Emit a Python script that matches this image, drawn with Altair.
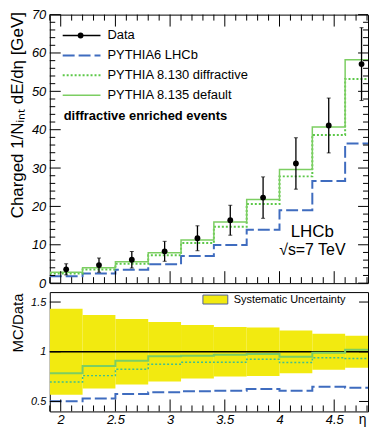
import altair as alt
import pandas as pd

# ---------------- data ----------------
eta_lo = [1.9, 2.2, 2.5, 2.8, 3.1, 3.4, 3.7, 4.0, 4.3, 4.6]
eta_hi = [2.2, 2.5, 2.8, 3.1, 3.4, 3.7, 4.0, 4.3, 4.6, 4.9]
eta_mid = [2.05, 2.35, 2.65, 2.95, 3.25, 3.55, 3.85, 4.15, 4.45, 4.75]
data_val = [3.6, 4.7, 6.1, 8.3, 11.7, 16.4, 22.3, 31.2, 41.1, 57.1]
data_err = [1.45, 1.85, 2.15, 2.6, 3.25, 3.9, 5.4, 6.7, 7.15, 9.5]
ratio_p6 = [0.503, 0.53, 0.575, 0.592, 0.603, 0.608, 0.625, 0.609, 0.648, 0.638]
ratio_p8130 = [0.695, 0.76, 0.825, 0.875, 0.894, 0.895, 0.924, 0.892, 0.94, 0.932]
ratio_p8135 = [0.785, 0.856, 0.91, 0.955, 0.96, 0.97, 0.978, 0.95, 0.99, 1.02]
syst_rel = [0.433, 0.37, 0.33, 0.30, 0.27, 0.25, 0.245, 0.215, 0.18, 0.16]

x_major = [2.0, 2.5, 3.0, 3.5, 4.0, 4.5]
x_minor = [1.9, 2.1, 2.2, 2.3, 2.4, 2.6, 2.7, 2.8, 2.9, 3.1, 3.2, 3.3, 3.4,
           3.6, 3.7, 3.8, 3.9, 4.1, 4.2, 4.3, 4.4, 4.6, 4.7, 4.8]
y1_major = [0, 10, 20, 30, 40, 50, 60, 70]
y1_minor = [2, 4, 6, 8, 12, 14, 16, 18, 22, 24, 26, 28, 32, 34, 36, 38,
            42, 44, 46, 48, 52, 54, 56, 58, 62, 64, 66, 68]
y2_major = [0.5, 1.0, 1.5]

legend_labels = ["Data", "PYTHIA6 LHCb", "PYTHIA 8.130 diffractive", "PYTHIA 8.135 default"]

# ---------------- styles ----------------
FONT = "Liberation Sans"
PX_PER_ETA = 110
W, H1, H2 = 320, 270, 120
X_MAX = 1.9 + W / PX_PER_ETA  # the window cuts the frame just before eta = 4.9
BLUE = "#3f6cbf"
GREEN = "#7cce62"
GREEN_DOT = "#5cc848"
TEAL_DOT = "#3fbf90"
YELLOW = "#f2ea10"

xs = alt.Scale(domain=[1.9, X_MAX], nice=False, zero=False)
ys1 = alt.Scale(domain=[0, 70], nice=False, zero=False)
ys2 = alt.Scale(domain=[0.4, 1.6], nice=False, zero=False)

AX_Y1 = alt.Axis(
    values=y1_major, ticks=False, domain=False, grid=False,
    labelFontStyle="italic", labelFontSize=13, labelPadding=4, labelColor="black",
    title="Charged 1/N\u1d62\u2099\u209c dE/d\u03b7 [GeV]", titleFontSize=17, titleFontWeight="normal",
    titleAngle=270, titleAlign="right", titleBaseline="alphabetic", titleX=-27, titleY=-3,
    titleColor="black")
AX_X2 = alt.Axis(
    values=x_major, format="~g", ticks=False, domain=False, grid=False,
    labelFontStyle="italic", labelFontSize=13, labelPadding=2, labelColor="black",
    title="\u03b7", titleFontSize=14, titleFontWeight="normal", titleX=W - 6, titleY=8,
    titleAlign="center", titleBaseline="middle", titleColor="black")
AX_Y2 = alt.Axis(
    values=y2_major, format="~g", ticks=False, domain=False, grid=False,
    labelFontStyle="italic", labelFontSize=11, labelPadding=4, labelColor="black",
    title="MC/Data", titleFontSize=15, titleFontWeight="normal",
    titleAngle=270, titleAlign="right", titleBaseline="alphabetic", titleX=-27, titleY=1,
    titleColor="black")


def step_df(vals):
    return pd.DataFrame({"eta": eta_lo + [eta_hi[-1]], "v": list(vals) + [vals[-1]]})


def one():
    return pd.DataFrame({"a": [0]})


mc_p6 = [r * d for r, d in zip(ratio_p6, data_val)]
mc_p8130 = [r * d for r, d in zip(ratio_p8130, data_val)]
mc_p8135 = [r * d for r, d in zip(ratio_p8135, data_val)]

pts = pd.DataFrame({
    "eta": eta_mid,
    "v": data_val,
    "lo": [d - e for d, e in zip(data_val, data_err)],
    "hi": [d + e for d, e in zip(data_val, data_err)],
})


def X1(f="eta:Q"):
    return alt.X(f, scale=xs, axis=None)


def Y1(f="v:Q"):
    return alt.Y(f, scale=ys1, axis=AX_Y1)


def X2(f="eta:Q"):
    return alt.X(f, scale=xs, axis=AX_X2)


def Y2(f="v:Q"):
    return alt.Y(f, scale=ys2, axis=AX_Y2)


def xtick_layer(X, vals, y0, y1):
    return alt.Chart(pd.DataFrame({"eta": vals})).mark_rule(color="black", strokeWidth=1).encode(
        x=X(), y=alt.value(y0), y2=alt.value(y1))


def ytick_layer(Y, vals, x0, x1):
    return alt.Chart(pd.DataFrame({"v": vals})).mark_rule(color="black", strokeWidth=1).encode(
        y=Y(), x=alt.value(x0), x2=alt.value(x1))


# ---------------- top panel ----------------
p6_top = alt.Chart(step_df(mc_p6)).mark_line(
    interpolate="step-after", color=BLUE, strokeWidth=2, strokeDash=[12, 4], clip=True).encode(x=X1(), y=Y1())
p8130_top = alt.Chart(step_df(mc_p8130)).mark_line(
    interpolate="step-after", color=GREEN_DOT, strokeWidth=2, strokeDash=[2, 2], clip=True).encode(x=X1(), y=Y1())
p8135_top = alt.Chart(step_df(mc_p8135)).mark_line(
    interpolate="step-after", color=GREEN, strokeWidth=1.5, clip=True).encode(x=X1(), y=Y1())

err = alt.Chart(pts).mark_rule(color="black", strokeWidth=1.3).encode(
    x=X1(), y=Y1("lo:Q"), y2="hi:Q")
cap_lo = alt.Chart(pts).mark_tick(color="black", thickness=1, size=4, orient="horizontal").encode(
    x=X1(), y=Y1("lo:Q"))
cap_hi = alt.Chart(pts).mark_tick(color="black", thickness=1, size=4, orient="horizontal").encode(
    x=X1(), y=Y1("hi:Q"))
dots = alt.Chart(pts).mark_point(filled=True, size=34, color="black", opacity=1).encode(
    x=X1(), y=Y1())

top_ticks = [
    xtick_layer(X1, x_major, 0, 12), xtick_layer(X1, x_minor, 0, 6),
    xtick_layer(X1, x_major, H1, H1 - 12), xtick_layer(X1, x_minor, H1, H1 - 6),
    ytick_layer(Y1, y1_major, 0, 11), ytick_layer(Y1, y1_minor, 0, 5.5),
    ytick_layer(Y1, y1_major, W, W - 10), ytick_layer(Y1, y1_minor, W, W - 5),
]

# legend (top)
leg_y = [21, 41, 61, 81]
leg_style = [
    dict(color="black", strokeWidth=1.5),
    dict(color=BLUE, strokeWidth=2, strokeDash=[12, 4]),
    dict(color=GREEN_DOT, strokeWidth=2, strokeDash=[2, 2]),
    dict(color=GREEN, strokeWidth=1.5),
]
legend_layers = []
for lab, yy, st in zip(legend_labels, leg_y, leg_style):
    legend_layers.append(alt.Chart(one()).mark_rule(**st).encode(
        x=alt.value(13), x2=alt.value(51), y=alt.value(yy)))
    legend_layers.append(alt.Chart(one()).mark_text(
        text=lab, align="left", baseline="middle", font=FONT, fontSize=13, color="black").encode(
        x=alt.value(58), y=alt.value(yy)))
legend_layers.append(alt.Chart(one()).mark_point(filled=True, size=34, color="black", opacity=1).encode(
    x=alt.value(31), y=alt.value(leg_y[0])))
legend_layers.append(alt.Chart(one()).mark_text(
    text="diffractive enriched events", align="left", baseline="middle", font=FONT,
    fontSize=13, fontWeight="bold", color="black").encode(x=alt.value(14), y=alt.value(102)))
legend_layers.append(alt.Chart(one()).mark_text(
    text="LHCb", align="center", baseline="middle", font=FONT, fontSize=17, color="black").encode(
    x=alt.value(264), y=alt.value(219)))
legend_layers.append(alt.Chart(one()).mark_text(
    text="\u221as=7 TeV", align="center", baseline="middle", font=FONT, fontSize=16, color="black").encode(
    x=alt.value(264), y=alt.value(237)))

top = alt.layer(p6_top, p8130_top, p8135_top, err, cap_lo, cap_hi, dots,
                *top_ticks, *legend_layers).properties(width=W, height=H1)

# ---------------- bottom (ratio) panel ----------------
band = pd.DataFrame({
    "eta": eta_lo, "hi": eta_hi,
    "b": [1 - s for s in syst_rel], "t": [1 + s for s in syst_rel],
})

band_l = alt.Chart(band).mark_rect(color=YELLOW, clip=True).encode(
    x=X2(), x2="hi:Q", y=Y2("b:Q"), y2="t:Q")
unity = alt.Chart(pd.DataFrame({"v": [1.0]})).mark_rule(color="black", strokeWidth=1.5).encode(y=Y2())
r_p6 = alt.Chart(step_df(ratio_p6)).mark_line(
    interpolate="step-after", color=BLUE, strokeWidth=2, strokeDash=[12, 4], clip=True).encode(x=X2(), y=Y2())
r_p8130 = alt.Chart(step_df(ratio_p8130)).mark_line(
    interpolate="step-after", color=TEAL_DOT, strokeWidth=1.5, strokeDash=[2, 2], clip=True).encode(x=X2(), y=Y2())
r_p8135 = alt.Chart(step_df(ratio_p8135)).mark_line(
    interpolate="step-after", color=GREEN, strokeWidth=2, clip=True).encode(x=X2(), y=Y2())

bot_ticks = [
    xtick_layer(X2, x_major, H2, H2 - 12), xtick_layer(X2, x_minor, H2, H2 - 6),
    ytick_layer(Y2, y2_major, 0, 11), ytick_layer(Y2, y2_major, W, W - 9),
]
bot_legend = [
    alt.Chart(one()).mark_rect(fill=YELLOW, stroke="#50609a", strokeWidth=1).encode(
        x=alt.value(154), x2=alt.value(179), y=alt.value(3), y2=alt.value(12)),
    alt.Chart(one()).mark_text(
        text="Systematic Uncertainty", align="left", baseline="middle", font=FONT,
        fontSize=11, color="black").encode(x=alt.value(185), y=alt.value(7.5)),
]

bottom = alt.layer(band_l, unity, r_p6, r_p8130, r_p8135, *bot_ticks, *bot_legend).properties(
    width=W, height=H2)

chart = alt.vconcat(top, bottom, spacing=9, bounds="flush").properties(
    padding={"left": 0, "top": -1.5, "right": 0, "bottom": -2}
).configure_view(stroke="black", strokeWidth=1).configure_axis(
    labelFont=FONT, titleFont=FONT)

chart.save("out.html", embed_options={"renderer": "svg", "actions": False})
